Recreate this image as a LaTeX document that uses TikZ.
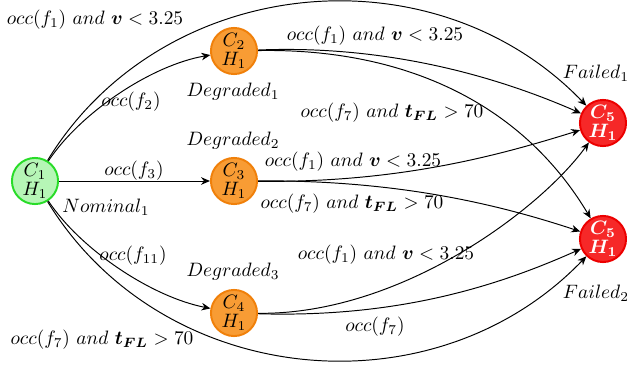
\documentclass[tikz,border=0pt]{standalone}
\usepackage{bm}
\usetikzlibrary{arrows.meta}
\definecolor{gfill}{RGB}{182,246,182}
\definecolor{gdraw}{RGB}{40,220,40}
\definecolor{ofill}{RGB}{248,156,52}
\definecolor{odraw}{RGB}{240,128,10}
\definecolor{rfill}{RGB}{246,40,40}
\definecolor{rdraw}{RGB}{236,0,0}
\begin{document}
\begin{tikzpicture}[x=0.516pt,y=-0.516pt,
  state/.style={circle,minimum size=23.8pt,inner sep=0pt,line width=1pt,align=center},
  nominal/.style={state,fill=gfill,draw=gdraw},
  degraded/.style={state,fill=ofill,draw=odraw},
  failed/.style={state,fill=rfill,draw=rdraw,text=white},
  conn/.style={line width=0.5pt,-{Stealth[length=4.6pt,width=3.9pt]}},
  lbl/.style={inner sep=0pt}]
\useasboundingbox (0,0) rectangle (627,365);
\node[nominal] (C1) at (35,181) {$C_1$\\[-2.5pt]$H_1$};
\node[degraded] (C2) at (234,51) {$C_2$\\[-2.5pt]$H_1$};
\node[degraded] (C3) at (234,181) {$C_3$\\[-2.5pt]$H_1$};
\node[degraded] (C4) at (234,313) {$C_4$\\[-2.5pt]$H_1$};
\node[failed] (F1) at (603,123) {$\bm{C_5}$\\[-2.5pt]$\bm{H_1}$};
\node[failed] (F2) at (603,239) {$\bm{C_5}$\\[-2.5pt]$\bm{H_1}$};

\node[lbl] (n1) at (106,207) {$Nominal_1$};
\node[lbl] (d1) at (233,92) {$Degraded_1$};
\node[lbl] (d2) at (233,140.5) {$Degraded_2$};
\node[lbl] (d3) at (233,272) {$Degraded_3$};
\node[lbl] (fa1) at (596,73) {$Failed_1$};
\node[lbl] (fa2) at (596,293) {$Failed_2$};

\draw[conn] (C1) .. controls (162,-27) and (434,-53) .. (F1);
\draw[conn] (C1) .. controls (81,112) and (152,65) .. (C2);
\draw[conn] (C1) -- (C3);
\draw[conn] (C1) .. controls (81,250) and (152,297) .. (C4);
\draw[conn] (C1) .. controls (162,389) and (434,415) .. (F2);
\draw[conn] (C2) .. controls (380,45) and (489,73) .. (F1);
\draw[conn] (C2) .. controls (400,48) and (520,100) .. (F2);
\draw[conn] (C3) .. controls (400,183) and (500,155) .. (F1);
\draw[conn] (C3) .. controls (400,180) and (500,205) .. (F2);
\draw[conn] (C4) .. controls (400,315) and (540,210) .. (F1);
\draw[conn] (C4) .. controls (400,318) and (500,285) .. (F2);

\node[lbl] (l1) at (95,20) {$occ(f_1)\ and\ \bm{v} < 3.25$};
\node[lbl] (l2) at (131,102) {$occ(f_2)$};
\node[lbl] (l3) at (134,171) {$occ(f_3)$};
\node[lbl] (l4) at (133,256) {$occ(f_{11})$};
\node[lbl] (l5) at (102,340) {$occ(f_7)\ and\ \bm{t_{FL}} > 70$};
\node[lbl] (l6) at (375,36) {$occ(f_1)\ and\ \bm{v} < 3.25$};
\node[lbl] (l7) at (392,113) {$occ(f_7)\ and\ \bm{t_{FL}} > 70$};
\node[lbl] (l8) at (353,161.5) {$occ(f_1)\ and\ \bm{v} < 3.25$};
\node[lbl] (l9) at (352,204) {$occ(f_7)\ and\ \bm{t_{FL}} > 70$};
\node[lbl] (l10) at (386,255) {$occ(f_1)\ and\ \bm{v} < 3.25$};
\node[lbl] (l11) at (375,327) {$occ(f_7)$};
\end{tikzpicture}
\end{document}
